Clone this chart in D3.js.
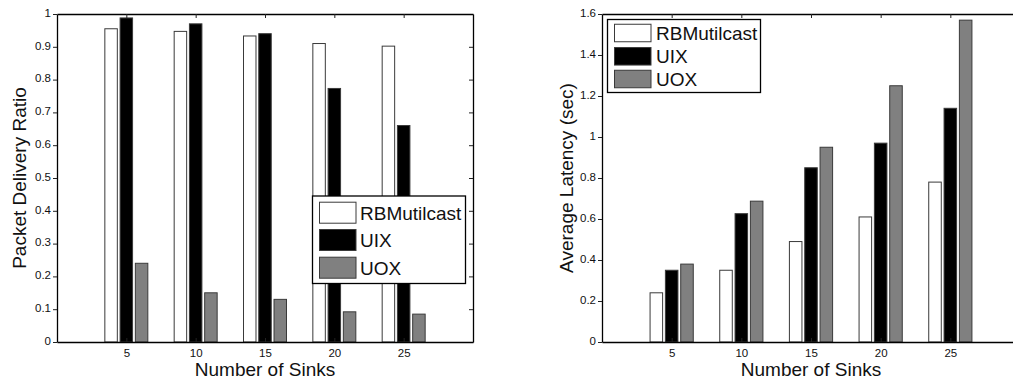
<!DOCTYPE html>
<html>
<head>
<meta charset="utf-8">
<script src="https://cdn.jsdelivr.net/npm/d3@7"></script>
<style>
  html, body { margin: 0; padding: 0; background: #fff; }
  svg { display: block; font-family: "Liberation Sans", Arial, sans-serif; }
</style>
</head>
<body>
<svg id="fig" width="1013" height="383"></svg>
<script>
// Grouped bars: packet delivery ratio and average latency against the number of sinks
const sinks = [5, 10, 15, 20, 25];
const seriesNames = ["RBMutilcast", "UIX", "UOX"];
const seriesFill = ["#ffffff", "#000000", "#808080"];

const pdrRB  = [0.955, 0.947, 0.933, 0.910, 0.902];
const pdrUIX = [0.988, 0.970, 0.940, 0.773, 0.660];
const pdrUOX = [0.240, 0.150, 0.130, 0.092, 0.085];

const latRB  = [0.24, 0.35, 0.49, 0.61, 0.78];
const latUIX = [0.35, 0.626, 0.85, 0.97, 1.14];
const latUOX = [0.38, 0.687, 0.95, 1.25, 1.57];

const pdrTicks = [0, 0.1, 0.2, 0.3, 0.4, 0.5, 0.6, 0.7, 0.8, 0.9, 1];
const pdrTickLabels = ["0", "0.1", "0.2", "0.3", "0.4", "0.5", "0.6", "0.7", "0.8", "0.9", "1"];
const latTicks = [0, 0.2, 0.4, 0.6, 0.8, 1, 1.2, 1.4, 1.6];
const latTickLabels = ["0", "0.2", "0.4", "0.6", "0.8", "1", "1.2", "1.4", "1.6"];
const sinkTickLabels = ["5", "10", "15", "20", "25"];

const xLabel = "Number of Sinks";

const svg = d3.select("#fig");

// offsets of the three bars inside a group and bar width, in x-data units
const barOffsets = [-1.1, 0, 1.1];
const barWidth = 0.9;
const tickFont = 11.5;

function panel(opts) {
  const g = svg.append("g");
  const x = d3.scaleLinear().domain([0, 30]).range([opts.left, opts.right]);
  const y = d3.scaleLinear().domain(opts.yDomain).range([opts.bottom, opts.top]);

  // bars
  const data = [];
  opts.series.forEach((vals, si) => {
    vals.forEach((v, i) => data.push({ s: si, x: sinks[i], v }));
  });
  g.selectAll("rect.bar").data(data).enter().append("rect")
    .attr("class", "bar")
    .attr("x", d => x(d.x + barOffsets[d.s] - barWidth / 2))
    .attr("width", d => x(barWidth) - x(0))
    .attr("y", d => y(d.v))
    .attr("height", d => y(0) - y(d.v))
    .attr("fill", d => seriesFill[d.s])
    .attr("stroke", "#3a3a3a")
    .attr("stroke-width", 1);

  // left axis, outer ticks and labels
  const ya = d3.axisLeft(y).tickValues(opts.yTicks)
    .tickFormat((d, i) => opts.yTickLabels[i])
    .tickSizeInner(4).tickSizeOuter(0).tickPadding(2);
  const yg = g.append("g").attr("transform", `translate(${opts.left},0)`).call(ya);
  yg.select(".domain").attr("stroke", "#000").attr("stroke-width", 1.3);
  yg.selectAll(".tick line").attr("stroke", "#222");
  yg.selectAll(".tick text").attr("font-size", tickFont).attr("fill", "#111")
    .attr("font-family", "Liberation Sans, Arial, sans-serif").attr("dy", "0.2em");

  // right axis, ticks pointing inward
  const yr = d3.axisRight(y).tickValues(opts.yTicks).tickFormat("")
    .tickSizeInner(-4).tickSizeOuter(0);
  const yrg = g.append("g").attr("transform", `translate(${opts.right},0)`).call(yr);
  yrg.select(".domain").attr("stroke", "#000").attr("stroke-width", 1.3);
  yrg.selectAll(".tick line").attr("stroke", "#222");

  // bottom axis with labels, ticks pointing inward
  const xa = d3.axisBottom(x).tickValues(sinks)
    .tickFormat((d, i) => sinkTickLabels[i])
    .tickSizeInner(-4).tickSizeOuter(0).tickPadding(6.5);
  const xg = g.append("g").attr("transform", `translate(0,${opts.bottom})`).call(xa);
  xg.select(".domain").attr("stroke", "#000").attr("stroke-width", 1.3);
  xg.selectAll(".tick line").attr("stroke", "#222");
  xg.selectAll(".tick text").attr("font-size", tickFont).attr("fill", "#111")
    .attr("font-family", "Liberation Sans, Arial, sans-serif");

  // top axis, ticks pointing inward
  const xt = d3.axisTop(x).tickValues(sinks).tickFormat("")
    .tickSizeInner(-4).tickSizeOuter(0);
  const xtg = g.append("g").attr("transform", `translate(0,${opts.top})`).call(xt);
  xtg.select(".domain").attr("stroke", "#000").attr("stroke-width", 1.3);
  xtg.selectAll(".tick line").attr("stroke", "#222");

  // axis titles
  g.append("text")
    .attr("x", (opts.left + opts.right) / 2).attr("y", 376)
    .attr("text-anchor", "middle").attr("font-size", 19).attr("fill", "#111")
    .text(xLabel);
  g.append("text")
    .attr("transform", `translate(${opts.yLabelX},${(opts.top + opts.bottom) / 2}) rotate(-90)`)
    .attr("text-anchor", "middle").attr("font-size", 19).attr("fill", "#111")
    .text(opts.yLabel);

  // legend
  const L = opts.legend;
  const lg = g.append("g");
  lg.append("rect")
    .attr("x", L.x0).attr("y", L.y0).attr("width", L.x1 - L.x0).attr("height", L.y1 - L.y0)
    .attr("fill", "#fff").attr("stroke", "#000").attr("stroke-width", 1.3);
  seriesNames.forEach((name, i) => {
    const cy = L.rowY[i];
    lg.append("rect")
      .attr("x", L.swX).attr("y", cy - L.swH / 2)
      .attr("width", L.swW).attr("height", L.swH)
      .attr("fill", seriesFill[i]).attr("stroke", "#3a3a3a").attr("stroke-width", 1);
    lg.append("text")
      .attr("x", L.textX).attr("y", cy + 7)
      .attr("font-size", 19).attr("fill", "#111")
      .text(name);
  });
}

panel({
  left: 57, right: 473, top: 14, bottom: 342,
  yDomain: [0, 1],
  yTicks: pdrTicks, yTickLabels: pdrTickLabels,
  series: [pdrRB, pdrUIX, pdrUOX],
  yLabel: "Packet Delivery Ratio", yLabelX: 26,
  legend: { x0: 312.5, y0: 196, x1: 465.5, y1: 283.5, swX: 319.5, swW: 36.5, swH: 21,
            rowY: [212.7, 240, 267.7], textX: 360 }
});

panel({
  left: 602, right: 1020, top: 14, bottom: 342,
  yDomain: [0, 1.6],
  yTicks: latTicks, yTickLabels: latTickLabels,
  series: [latRB, latUIX, latUOX],
  yLabel: "Average Latency (sec)", yLabelX: 573,
  legend: { x0: 607.5, y0: 19.5, x1: 760.5, y1: 92.5, swX: 614.5, swW: 36.5, swH: 17.5,
            rowY: [33, 56.3, 79], textX: 656 }
});
</script>
</body>
</html>
